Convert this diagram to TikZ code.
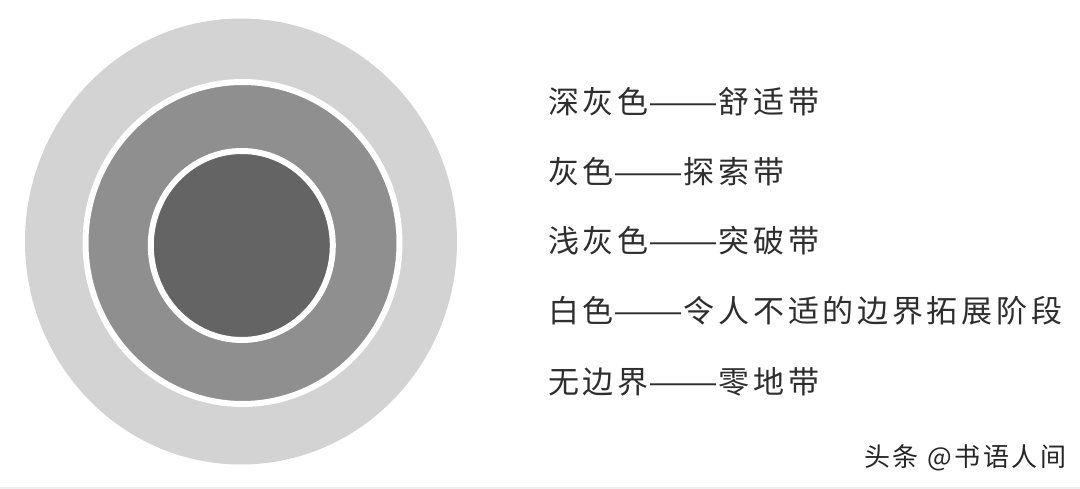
\documentclass[tikz,border=0pt]{standalone}
\usepackage{fontspec}
\newfontfamily\cjk[LetterSpace=12]{Noto Sans CJK SC}
\newfontfamily\cjkwm[LetterSpace=10]{Noto Sans CJK SC}
\newcommand{\twodash}{\resizebox{70pt}{\height}{——}}
\definecolor{lightg}{HTML}{D3D3D3}
\definecolor{midg}{HTML}{8F8F8F}
\definecolor{darkg}{HTML}{646464}
\definecolor{txt}{HTML}{2E2E2E}
\begin{document}
\begin{tikzpicture}[x=1pt,y=-1pt,
  legend/.style={anchor=west,inner sep=0pt,text=txt,font=\cjk\fontsize{31}{31}\selectfont},
  ring/.style={draw=white,line width=6pt}]
\useasboundingbox (0,0) rectangle (1080,489);
\fill[white] (0,0) rectangle (1080,489);
\fill[black!6] (0,487) rectangle (1080,489);
% circles
\fill[lightg] (241,241.5) ellipse [x radius=216, y radius=223];
\filldraw[fill=midg,ring] (242.5,243) ellipse [x radius=157, y radius=161];
\filldraw[fill=darkg,ring] (241.8,245.5) ellipse [x radius=91, y radius=94.5];
% legend
\node[legend] (l1) at (548,102) {深灰色\twodash 舒适带};
\node[legend] (l2) at (548,172) {灰色\twodash 探索带};
\node[legend] (l3) at (548,241) {浅灰色\twodash 突破带};
\node[legend] (l4) at (548,311) {白色\twodash 令人不适的边界拓展阶段};
\node[legend] (l5) at (548,382) {无边界\twodash 零地带};
% watermark
\node[anchor=west,inner sep=0pt,text=black!85,font=\cjkwm\fontsize{26}{26}\selectfont] (wm) at (864,458) {头条 @书语人间};
\end{tikzpicture}
\end{document}
